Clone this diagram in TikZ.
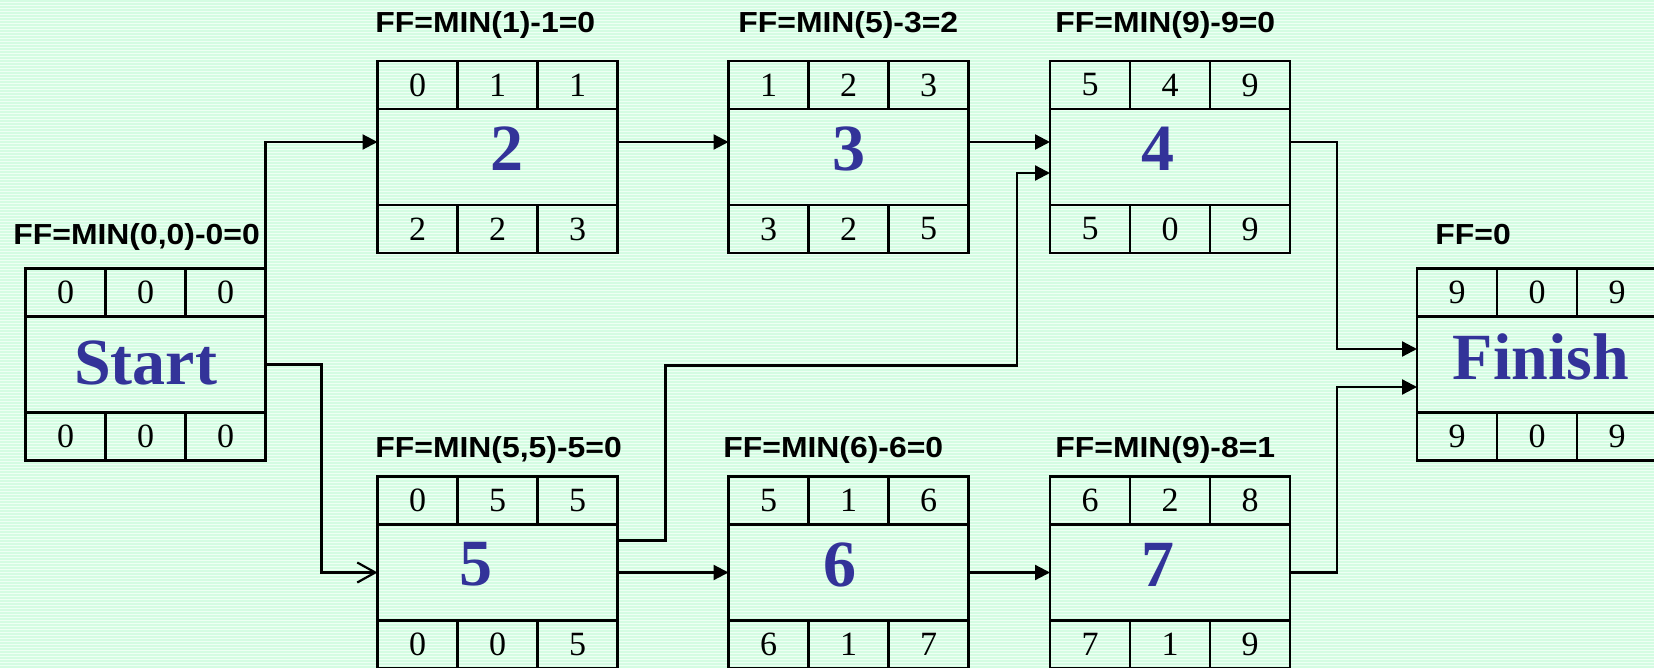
\documentclass[tikz,border=0pt]{standalone}
\usepackage{fontspec}
\setmainfont{Liberation Serif}
\newfontfamily\fffont[FakeStretch=1.1]{Liberation Sans}
\usetikzlibrary{arrows.meta}
\definecolor{mintbg}{RGB}{238,255,244}
\definecolor{mintline}{RGB}{212,252,226}
\definecolor{taskblue}{RGB}{51,51,153}
\tikzset{
  task/.style={draw, rectangle, line width=1.4pt, minimum width=120pt, minimum height=48pt, inner sep=0pt, outer sep=0pt},
  cell/.style={draw, rectangle, line width=1.4pt, minimum width=40pt, minimum height=24pt, inner sep=0pt, outer sep=0pt, font=\fontsize{17}{17}\selectfont},
  tasklabel/.style={text=taskblue, inner sep=0pt, yshift=4pt, font=\bfseries\fontsize{33}{33}\selectfont},
  fflabel/.style={anchor=base west, inner sep=0pt, font=\fffont\bfseries\fontsize{14.5}{14.5}\selectfont},
  link/.style={line width=1.1pt, -{Triangle[length=7.5pt,width=7.5pt]}},
  openlink/.style={line width=1.1pt, -{Straight Barb[length=9pt,width=10pt,line width=1.1pt]}}
}
\newcommand{\activity}[6][]{
  \node[task] (#2) at #3 {};
  \node[tasklabel, #1] (#2-name) at (#2) {#4};
  \foreach \v [count=\i] in {#5}
    \node[cell, anchor=south west] (#2-top\i) at ([xshift={(\i-1)*40pt}]#2.north west) {\v};
  \foreach \v [count=\i] in {#6}
    \node[cell, anchor=north west] (#2-bot\i) at ([xshift={(\i-1)*40pt}]#2.south west) {\v};
}
\begin{document}
\begin{tikzpicture}[x=0.5pt, y=-0.5pt]
\useasboundingbox (0,0) rectangle (1654,668);
\fill[mintbg] (0,0) rectangle (1654,668);
\foreach \k in {1,4,...,667}
  \draw[mintline, line width=0.75pt] (0,\k) -- (1654,\k);

\activity[yshift=-3pt]{start}{(145.5,364.5)}{Start}{0,0,0}{0,0,0}
\activity[xshift=4.75pt]{act2}{(497.5,157)}{2}{0,1,1}{2,2,3}
\activity{act3}{(848.5,157)}{3}{1,2,3}{3,2,5}
\activity[xshift=-6pt]{act4}{(1170,157)}{4}{5,4,9}{5,0,9}
\activity[xshift=-11pt]{act5}{(497.5,572.5)}{5}{0,5,5}{0,0,5}
\activity[xshift=-4.25pt]{act6}{(848.5,572.5)}{6}{5,1,6}{6,1,7}
\activity[xshift=-6pt]{act7}{(1170,572.5)}{7}{6,2,8}{7,1,9}
\activity[xshift=2pt]{finish}{(1537,364.5)}{Finish}{9,0,9}{9,0,9}

\node[fflabel] (ff-start) at (13,245) {FF=MIN(0,0)-0=0};
\node[fflabel] (ff2) at (375,33) {FF=MIN(1)-1=0};
\node[fflabel] (ff3) at (738,33) {FF=MIN(5)-3=2};
\node[fflabel] (ff4) at (1055,33) {FF=MIN(9)-9=0};
\node[fflabel] (ff5) at (375,457) {FF=MIN(5,5)-5=0};
\node[fflabel] (ff6) at (723,457) {FF=MIN(6)-6=0};
\node[fflabel] (ff7) at (1055,457) {FF=MIN(9)-8=1};
\node[fflabel] (ff-finish) at (1435,245) {FF=0};

\draw[link] ([yshift=8.75pt]start.east) |- ([yshift=7.5pt]act2.west);
\draw[openlink] (start.east) -- ++(56,0) |- (act5.west);
\draw[link] ([yshift=7.5pt]act2.east) -- ([yshift=7.5pt]act3.west);
\draw[link] ([yshift=7.5pt]act3.east) -- ([yshift=7.5pt]act4.west);
\draw[link] ([yshift=16pt]act5.east) -- ++(48,0) -- ++(0,-175) -| ([xshift=-16.5pt,yshift=-8pt]act4.west) -- ([yshift=-8pt]act4.west);
\draw[link] (act5.east) -- (act6.west);
\draw[link] (act6.east) -- (act7.west);
\draw[link] ([yshift=7.5pt]act4.east) -- ++(47,0) |- ([yshift=7.75pt]finish.west);
\draw[link] (act7.east) -- ++(47,0) |- ([yshift=-11.25pt]finish.west);
\end{tikzpicture}
\end{document}
